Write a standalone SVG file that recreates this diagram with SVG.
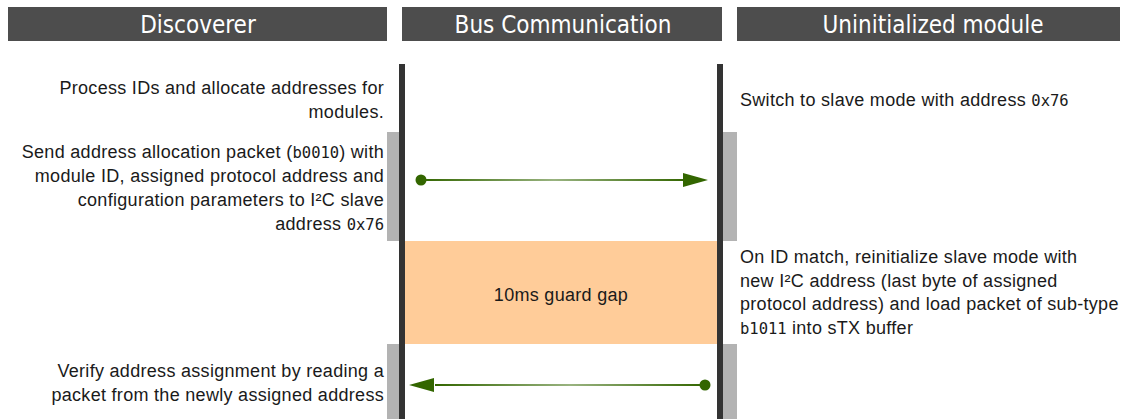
<svg xmlns="http://www.w3.org/2000/svg" width="1127" height="419" viewBox="0 0 1127 419">
  <defs>
    <style>
      .hdr { fill: #4d4d4d; }
      .hdr-text { font-family: "DejaVu Sans Condensed", "DejaVu Sans", sans-serif; font-stretch: condensed; font-size: 24px; fill: #ffffff; text-anchor: middle; }
      .lifeline { fill: #333333; }
      .act { fill: #b3b3b3; }
      .txt { font-family: "Liberation Sans", Arial, sans-serif; font-size: 18px; letter-spacing: 0.3px; fill: #1a1a1a; }
      .mono { font-family: "DejaVu Sans Mono", monospace; font-size: 15.5px; letter-spacing: 0; }
      .right { text-anchor: end; }
      .msg-head { fill: #336600; }
    </style>
    <linearGradient id="msgGrad" x1="0" y1="0" x2="1" y2="0">
      <stop offset="0" stop-color="#336600"/>
      <stop offset="0.5" stop-color="#99b380"/>
      <stop offset="1" stop-color="#336600"/>
    </linearGradient>
  </defs>

  <!-- column headers -->
  <g id="hdr-discoverer">
    <rect class="hdr" x="8" y="7" width="379" height="34"/>
    <text class="hdr-text" x="198" y="33">Discoverer</text>
  </g>
  <g id="hdr-bus">
    <rect class="hdr" x="402" y="7" width="320" height="34"/>
    <text class="hdr-text" x="563" y="33">Bus Communication</text>
  </g>
  <g id="hdr-module">
    <rect class="hdr" x="737" y="7" width="383" height="34"/>
    <text class="hdr-text" x="933" y="33">Uninitialized module</text>
  </g>

  <!-- guard gap -->
  <g id="guard-gap">
    <rect x="405" y="241" width="312" height="103" fill="#ffcc99"/>
    <text class="txt" x="561" y="301" text-anchor="middle">10ms guard gap</text>
  </g>

  <!-- activation bars -->
  <g id="activations">
    <rect class="act" x="387" y="132" width="12" height="109"/>
    <rect class="act" x="387" y="344" width="12" height="75"/>
    <rect class="act" x="723" y="132" width="14" height="109"/>
    <rect class="act" x="723" y="344" width="14" height="75"/>
  </g>

  <!-- lifelines -->
  <g id="lifelines">
    <rect class="lifeline" x="399" y="64" width="6" height="355"/>
    <rect class="lifeline" x="717" y="64" width="6" height="355"/>
  </g>

  <!-- discoverer notes -->
  <g id="note-process">
    <text class="txt right" x="384" y="94">Process IDs and allocate addresses for</text>
    <text class="txt right" x="384" y="118">modules.</text>
  </g>
  <g id="note-send">
    <text class="txt right" x="384" y="158">Send address allocation packet (<tspan class="mono">b0010</tspan>) with</text>
    <text class="txt right" x="384" y="182">module ID, assigned protocol address and</text>
    <text class="txt right" x="384" y="206">configuration parameters to I²C slave</text>
    <text class="txt right" x="384" y="230">address <tspan class="mono">0x76</tspan></text>
  </g>
  <g id="note-verify">
    <text class="txt right" x="384" y="377">Verify address assignment by reading a</text>
    <text class="txt right" x="384" y="401">packet from the newly assigned address</text>
  </g>

  <!-- module notes -->
  <g id="note-switch">
    <text class="txt" x="740" y="106">Switch to slave mode with address <tspan class="mono">0x76</tspan></text>
  </g>
  <g id="note-reinit">
    <text class="txt" x="740" y="263">On ID match, reinitialize slave mode with</text>
    <text class="txt" x="740" y="287">new I²C address (last byte of assigned</text>
    <text class="txt" x="740" y="310">protocol address) and load packet of sub-type</text>
    <text class="txt" x="740" y="334"><tspan class="mono">b1011</tspan> into sTX buffer</text>
  </g>

  <!-- messages -->
  <g id="connectors">
    <g id="msg-allocate">
      <circle class="msg-head" cx="421" cy="180" r="5.5"/>
      <rect x="421" y="179" width="266" height="2" fill="url(#msgGrad)"/>
      <polygon class="msg-head" points="683,173 708,180 683,187"/>
    </g>
    <g id="msg-verify">
      <circle class="msg-head" cx="705" cy="385" r="5.5"/>
      <rect x="435" y="384" width="270" height="2" fill="url(#msgGrad)"/>
      <polygon class="msg-head" points="434,378 409,385 434,392"/>
    </g>
  </g>
</svg>
